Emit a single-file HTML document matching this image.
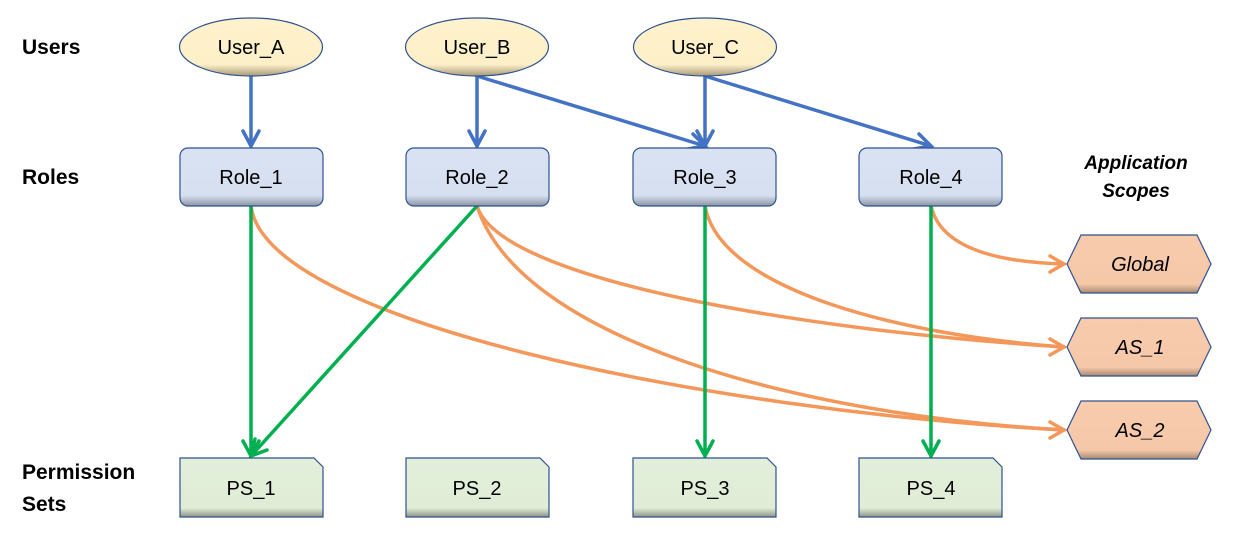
<!DOCTYPE html>
<html><head><meta charset="utf-8"><style>
html,body{margin:0;padding:0;background:#fff;}
svg{display:block;}
text{font-family:"Liberation Sans",sans-serif;}
</style></head><body>
<svg width="1239" height="539" viewBox="0 0 1239 539" xmlns="http://www.w3.org/2000/svg">
<defs>
<linearGradient id="gy" x1="0" y1="0" x2="0" y2="1"><stop offset="0" stop-color="#fff2cc"/><stop offset="0.8" stop-color="#fdefc8"/><stop offset="1" stop-color="#a89a78"/></linearGradient>
<linearGradient id="gb" x1="0" y1="0" x2="0" y2="1"><stop offset="0" stop-color="#dae3f3"/><stop offset="0.82" stop-color="#d6dff0"/><stop offset="1" stop-color="#8b93a3"/></linearGradient>
<linearGradient id="gg" x1="0" y1="0" x2="0" y2="1"><stop offset="0" stop-color="#e2efda"/><stop offset="0.85" stop-color="#e0ecd6"/><stop offset="1" stop-color="#8e9588"/></linearGradient>
<linearGradient id="go" x1="0" y1="0" x2="0" y2="1"><stop offset="0" stop-color="#f8cbad"/><stop offset="0.85" stop-color="#f5c8a9"/><stop offset="1" stop-color="#a6886f"/></linearGradient>
</defs>

<g font-weight="bold" font-size="21" fill="#000">
<text x="22" y="54">Users</text>
<text x="22" y="184">Roles</text>
<text x="22" y="479">Permission</text>
<text x="22" y="511">Sets</text>
</g>
<g font-weight="bold" font-style="italic" font-size="19" fill="#000" text-anchor="middle">
<text x="1136" y="169">Application</text>
<text x="1136" y="197">Scopes</text>
</g>

<g stroke="#f4975a" stroke-width="3.5" fill="none" stroke-linecap="round">
<path d="M931,206 C940,245 990,262 1064,264"/>
<path d="M705,206 C720,290 900,335 1064,347"/>
<path d="M477,206 C500,280 800,330 1064,347"/>
<path d="M477,206 C520,340 800,415 1064,430"/>
<path d="M251,206 C265,320 700,410 1064,430"/>
<path d="M1050,256 L1064,264 L1050,272"/>
<path d="M1050,339 L1064,347 L1050,355"/>
<path d="M1050,422 L1064,430 L1050,438"/>
</g>

<g stroke="#00b050" stroke-width="3.5" fill="none" stroke-linecap="round">
<path d="M251,206 L251,456"/>
<path d="M477,206 L251,456"/>
<path d="M705,206 L705,456"/>
<path d="M931,206 L931,456"/>
<path d="M243,441 L251,456 L259,441"/>
<path d="M255,439 L251,456 L267,450"/>
<path d="M697,441 L705,456 L713,441"/>
<path d="M923,441 L931,456 L939,441"/>
</g>

<g stroke="#4472c4" stroke-width="3.5" fill="none" stroke-linecap="round">
<path d="M251,76 L251,146"/>
<path d="M477,76 L477,146"/>
<path d="M477,76 L705,146"/>
<path d="M705,76 L705,146"/>
<path d="M705,76 L931,146"/>
<path d="M243,131 L251,146 L259,131"/>
<path d="M469,131 L477,146 L485,131"/>
<path d="M697,131 L705,146 L713,131"/>
<path d="M693,134 L705,146 L688,149"/>
<path d="M919,134 L931,146 L914,149"/>
</g>

<g stroke="#2f528f" stroke-width="1.2" fill="url(#gy)">
<ellipse cx="251" cy="47" rx="71.5" ry="29"/>
<ellipse cx="477" cy="47" rx="71.5" ry="29"/>
<ellipse cx="705" cy="47" rx="71.5" ry="29"/>
</g>
<g font-size="20" text-anchor="middle" fill="#000">
<text x="251" y="54">User_A</text>
<text x="477" y="54">User_B</text>
<text x="705" y="54">User_C</text>
</g>

<g stroke="#2f528f" stroke-width="1.2" fill="url(#gb)">
<rect x="180" y="148" width="143" height="58" rx="8"/>
<rect x="406" y="148" width="143" height="58" rx="8"/>
<rect x="633" y="148" width="143" height="58" rx="8"/>
<rect x="859" y="148" width="143" height="58" rx="8"/>
</g>
<g font-size="20" text-anchor="middle" fill="#000">
<text x="251" y="184">Role_1</text>
<text x="477" y="184">Role_2</text>
<text x="705" y="184">Role_3</text>
<text x="931" y="184">Role_4</text>
</g>

<g stroke="#2f528f" stroke-width="1.2" fill="url(#gg)">
<path d="M180,458 H314 L323,467 V517 H180 Z"/>
<path d="M406,458 H540 L549,467 V517 H406 Z"/>
<path d="M633,458 H767 L776,467 V517 H633 Z"/>
<path d="M859,458 H993 L1002,467 V517 H859 Z"/>
</g>
<g font-size="20" text-anchor="middle" fill="#000">
<text x="251" y="495">PS_1</text>
<text x="477" y="495">PS_2</text>
<text x="705" y="495">PS_3</text>
<text x="931" y="495">PS_4</text>
</g>

<g stroke="#2f528f" stroke-width="1.2" fill="url(#go)">
<path d="M1067,264 L1081,235 H1197 L1211,264 L1197,293 H1081 Z"/>
<path d="M1067,347 L1081,318 H1197 L1211,347 L1197,376 H1081 Z"/>
<path d="M1067,430 L1081,401 H1197 L1211,430 L1197,459 H1081 Z"/>
</g>
<g font-size="20" font-style="italic" text-anchor="middle" fill="#000">
<text x="1140" y="271">Global</text>
<text x="1140" y="354">AS_1</text>
<text x="1140" y="437">AS_2</text>
</g>
</svg>
</body></html>
